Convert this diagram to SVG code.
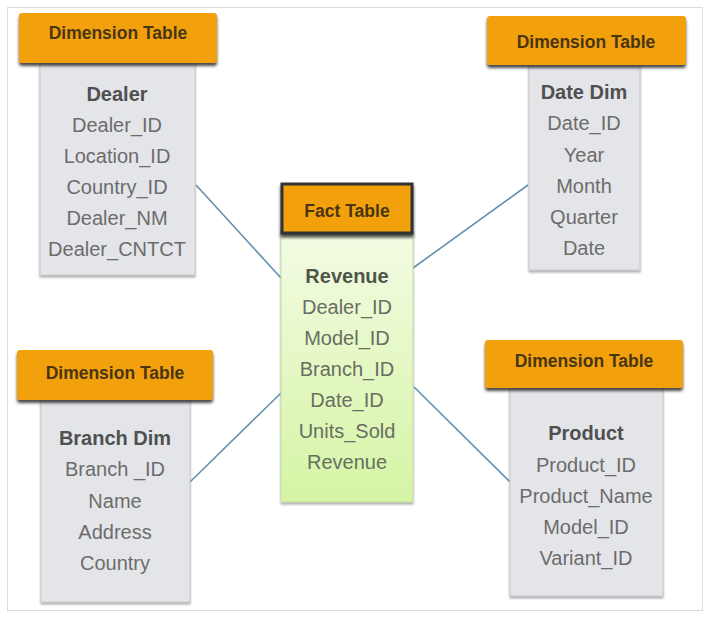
<svg xmlns="http://www.w3.org/2000/svg" width="712" height="621" viewBox="0 0 712 621">
<defs>
  <filter id="hshadow" x="-10%" y="-20%" width="120%" height="160%">
    <feDropShadow dx="0" dy="3" stdDeviation="1.5" flood-color="#2a2a2a" flood-opacity="0.85"/>
  </filter>
  <filter id="bshadow" x="-10%" y="-10%" width="120%" height="120%">
    <feDropShadow dx="0" dy="2" stdDeviation="1.2" flood-color="#777" flood-opacity="0.6"/>
  </filter>
  <linearGradient id="green" x1="0" y1="0" x2="0" y2="1">
    <stop offset="0" stop-color="#f3fce4"/>
    <stop offset="1" stop-color="#d5f4a4"/>
  </linearGradient>
</defs>
<style>
  .frame { fill: #ffffff; stroke: #dcdcdc; stroke-width: 1; }
  .hdr { fill: #f2a10e; filter: url(#hshadow); }
  .facthdr { fill: #f2a10e; stroke: #333333; stroke-width: 3; filter: url(#hshadow); }
  .body { fill: #e4e5e9; stroke: #c9cbd0; stroke-width: 1; filter: url(#bshadow); }
  .fbody { fill: url(#green); stroke: #c7dca8; stroke-width: 1; filter: url(#bshadow); }
  .htxt { font-family: "Liberation Sans", Arial, sans-serif; font-weight: bold; font-size: 17.5px; fill: #4a3512; text-anchor: middle; }
  .ttl { font-family: "Liberation Sans", Arial, sans-serif; font-weight: bold; font-size: 20px; fill: #505050; text-anchor: middle; }
  .fld { font-family: "Liberation Sans", Arial, sans-serif; font-size: 20px; fill: #6c6c6c; text-anchor: middle; }
  .fttl { fill: #4f5649; }
  .ffld { fill: #686e62; }
  .conn { stroke: #6290ad; stroke-width: 1.6; fill: none; }
</style>
<rect class="frame" x="7.5" y="7.5" width="695" height="603"/>

<g id="connectors">
  <line class="conn" x1="196" y1="185" x2="281" y2="278"/>
  <line class="conn" x1="413" y1="268" x2="528" y2="185"/>
  <line class="conn" x1="190" y1="482" x2="281" y2="393"/>
  <line class="conn" x1="414" y1="387" x2="510" y2="482"/>
</g>

<g id="dealer">
  <rect class="body" x="40" y="60" width="155" height="215"/>
  <rect class="hdr" x="19" y="13" width="198" height="50" rx="3"/>
  <text class="htxt" x="118" y="39">Dimension Table</text>
  <text class="ttl" x="117" y="101">Dealer</text>
  <text class="fld" x="117" y="132">Dealer_ID</text>
  <text class="fld" x="117" y="163">Location_ID</text>
  <text class="fld" x="117" y="194">Country_ID</text>
  <text class="fld" x="117" y="225">Dealer_NM</text>
  <text class="fld" x="117" y="256">Dealer_CNTCT</text>
</g>

<g id="datedim">
  <rect class="body" x="529" y="62" width="111" height="208"/>
  <rect class="hdr" x="487" y="16" width="199" height="49" rx="3"/>
  <text class="htxt" x="586" y="48">Dimension Table</text>
  <text class="ttl" x="584" y="99">Date Dim</text>
  <text class="fld" x="584" y="130">Date_ID</text>
  <text class="fld" x="584" y="162">Year</text>
  <text class="fld" x="584" y="193">Month</text>
  <text class="fld" x="584" y="224">Quarter</text>
  <text class="fld" x="584" y="255">Date</text>
</g>

<g id="fact">
  <rect class="fbody" x="281" y="230" width="132" height="272"/>
  <rect class="facthdr" x="282" y="184" width="130" height="49"/>
  <text class="htxt" x="347" y="217">Fact Table</text>
  <text class="ttl fttl" x="347" y="283">Revenue</text>
  <text class="fld ffld" x="347" y="314">Dealer_ID</text>
  <text class="fld ffld" x="347" y="345">Model_ID</text>
  <text class="fld ffld" x="347" y="376">Branch_ID</text>
  <text class="fld ffld" x="347" y="407">Date_ID</text>
  <text class="fld ffld" x="347" y="438">Units_Sold</text>
  <text class="fld ffld" x="347" y="469">Revenue</text>
</g>

<g id="branchdim">
  <rect class="body" x="41" y="397" width="149" height="205"/>
  <rect class="hdr" x="17" y="350" width="196" height="50" rx="3"/>
  <text class="htxt" x="115" y="379">Dimension Table</text>
  <text class="ttl" x="115" y="445">Branch Dim</text>
  <text class="fld" x="115" y="476">Branch _ID</text>
  <text class="fld" x="115" y="508">Name</text>
  <text class="fld" x="115" y="539">Address</text>
  <text class="fld" x="115" y="570">Country</text>
</g>

<g id="product">
  <rect class="body" x="510" y="386" width="153" height="210"/>
  <rect class="hdr" x="485" y="340" width="198" height="48" rx="3"/>
  <text class="htxt" x="584" y="367">Dimension Table</text>
  <text class="ttl" x="586" y="440">Product</text>
  <text class="fld" x="586" y="472">Product_ID</text>
  <text class="fld" x="586" y="503">Product_Name</text>
  <text class="fld" x="586" y="534">Model_ID</text>
  <text class="fld" x="586" y="565">Variant_ID</text>
</g>
</svg>
